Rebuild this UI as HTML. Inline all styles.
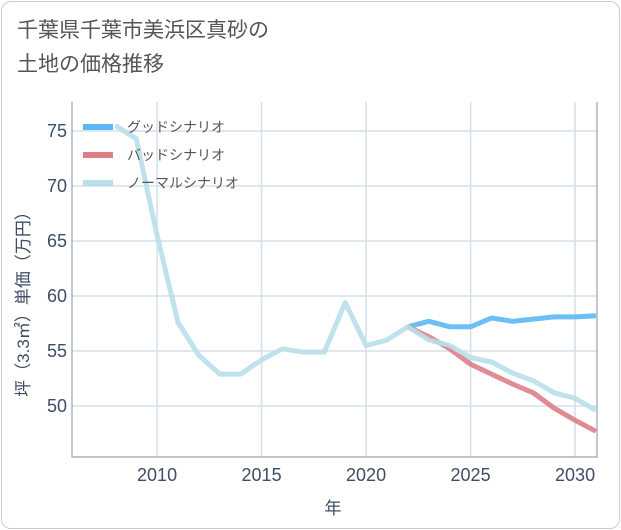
<!DOCTYPE html>
<html><head><meta charset="utf-8"><style>
html,body{margin:0;padding:0;background:#fff;}
#card{position:absolute;left:1px;top:1px;width:617px;height:526px;border:1px solid #ccc;border-radius:10px;background:#fff;}
#title{position:absolute;left:17px;top:14px;font:21px "Liberation Sans","Noto Sans CJK JP",sans-serif;color:#555;line-height:34px;}
svg text{font-family:"Liberation Sans","Noto Sans CJK JP",sans-serif;}
</style></head><body>
<div id="card"></div>
<div id="title">千葉県千葉市美浜区真砂の<br>土地の価格推移</div>
<svg id="chart" width="621" height="530" style="position:absolute;left:0;top:0"></svg>
<script>
const years=[2008,2009,2010,2011,2012,2013,2014,2015,2016,2017,2018,2019,2020,2021,2022,2023,2024,2025,2026,2027,2028,2029,2030,2031];
const normalValues=[75.5,74.3,65.5,57.6,54.6,52.9,52.9,54.2,55.2,54.9,54.9,59.4,55.5,56.0,57.2,56.0,55.5,54.4,54.0,53.0,52.3,51.2,50.7,49.6];
const scenarioYears=[2022,2023,2024,2025,2026,2027,2028,2029,2030,2031];
const goodValues=[57.2,57.7,57.2,57.2,58.0,57.7,57.9,58.1,58.1,58.2];
const badValues=[57.2,56.3,55.2,53.8,52.9,52.0,51.2,49.8,48.7,47.7];
const xTicks=[2010,2015,2020,2025,2030];
const yTicks=[50,55,60,65,70,75];
const seriesNames=["グッドシナリオ","バッドシナリオ","ノーマルシナリオ"];
const L=72,R=597,T=102,B=457;
const xMin=2005.93,xMax=2031.05,yMin=45.36,yMax=77.64;
const sx=v=>L+(v-xMin)/(xMax-xMin)*(R-L);
const sy=v=>B-(v-yMin)/(yMax-yMin)*(B-T);
const svg=document.getElementById('chart');
const NS='http://www.w3.org/2000/svg';
function mk(tag,attrs,parent){const e=document.createElementNS(NS,tag);for(const k in attrs)e.setAttribute(k,attrs[k]);(parent||svg).appendChild(e);return e;}
xTicks.forEach(t=>{
 const g=mk('line',{x1:sx(t),x2:sx(t),y1:T,y2:B,stroke:'#d5dfe8','stroke-width':1.5});
 
 
 const tx=mk('text',{x:sx(t),y:B+24,'text-anchor':'middle','font-size':18,fill:'#3d4d66'});tx.textContent=t;
 
 
});
yTicks.forEach(t=>{
 const g=mk('line',{x1:L,x2:R,y1:sy(t),y2:sy(t),stroke:'#d5dfe8','stroke-width':1.5});
 
 
 const tx=mk('text',{x:L-5,y:sy(t)+6,'text-anchor':'end','font-size':18,fill:'#3d4d66'});tx.textContent=t;
 
 
});
const ax=mk('path',{d:`M${L},${T}V${B}H${R}V${T}`,fill:'none',stroke:'#9aa4ae','stroke-width':1.2});


function line(xs,ys,color,name){
 const d=xs.map((x,i)=>(i?'L':'M')+sx(x).toFixed(1)+','+sy(ys[i]).toFixed(1)).join('');
 const p=mk('path',{d:d,fill:'none',stroke:color,'stroke-width':5,'stroke-linejoin':'round','stroke-opacity':0.9});
 
 
}
line(scenarioYears,goodValues,'#5cb8f5','good-scenario-line');
line(scenarioYears,badValues,'#dc7f88','bad-scenario-line');
line(years,normalValues,'#b9dfea','normal-scenario-line');
const legColors=['#5cb8f5','#dc7f88','#b9dfea'];
seriesNames.forEach((n,i)=>{
 const y=127+i*28;
 const l=mk('line',{x1:83,x2:113,y1:y,y2:y,stroke:legColors[i],'stroke-width':6});
 
 
 const t=mk('text',{x:127,y:y+5,'font-size':14,fill:'#555'});t.textContent=n;
 
 
});
const xl=mk('text',{x:333,y:514,'text-anchor':'middle','font-size':17,fill:'#3d4d66'});xl.textContent='年';


const yl=mk('text',{x:0,y:0,'text-anchor':'middle','font-size':17,fill:'#3d4d66',transform:'translate(29,300) rotate(-90)'});yl.textContent='坪（3.3㎡）単価（万円）';


</script>
</body></html>
